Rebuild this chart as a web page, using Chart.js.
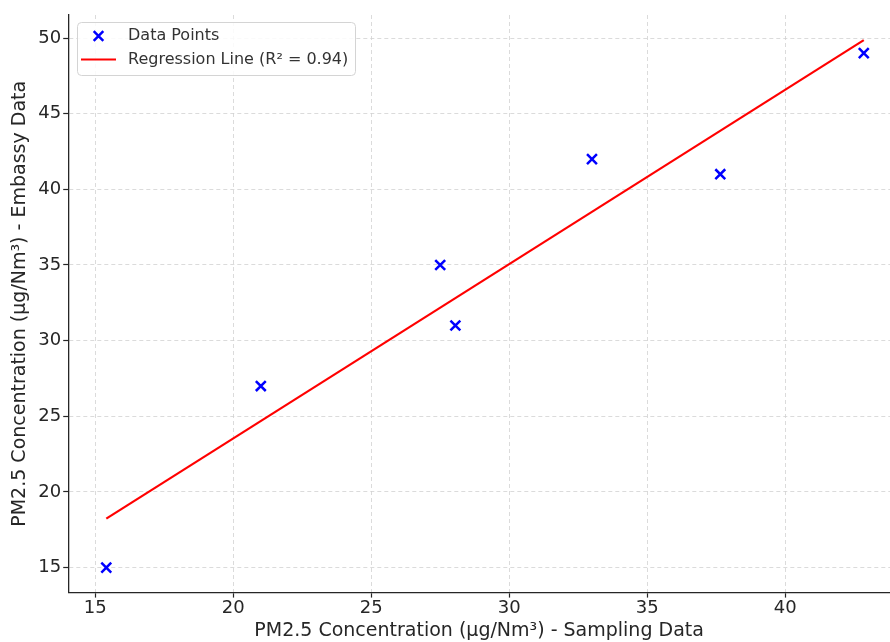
<!DOCTYPE html>
<html><head><meta charset="utf-8">
<script src="https://cdn.jsdelivr.net/npm/chart.js@4"></script>
<style>html,body{margin:0;padding:0;overflow:hidden;background:#fff}</style>
</head><body>
<canvas id="c" width="890" height="642" style="display:block"></canvas>
<script>
const samplingX = [15.4, 21.0, 27.5, 28.05, 33.0, 37.65, 42.85];
const embassyY = [15, 27, 35, 31, 42, 41, 49];
const lineX = [15.4, 42.85];
const lineY = [18.24, 49.86];
const xTicks = [15, 20, 25, 30, 35, 40];
const yTicks = [15, 20, 25, 30, 35, 40, 45, 50];
const seriesLabels = ['Data Points', 'Regression Line (R\u00b2 = 0.94)'];
const xTitle = 'PM2.5 Concentration (\u00b5g/Nm\u00b3) - Sampling Data';
const yTitle = 'PM2.5 Concentration (\u00b5g/Nm\u00b3) - Embassy Data';

const FONT = 'DejaVu Sans';
const TXT = '#262626';

const legendPlugin = {
  id: 'mplLegend',
  afterDraw(chart) {
    const ctx = chart.ctx;
    const x0 = 77, y0 = 22, w = 278, h = 53;
    ctx.save();
    ctx.beginPath();
    if (ctx.roundRect) ctx.roundRect(x0 + 0.5, y0 + 0.5, w, h, 4); else ctx.rect(x0 + 0.5, y0 + 0.5, w, h);
    ctx.fillStyle = 'rgba(255,255,255,0.85)';
    ctx.fill();
    ctx.strokeStyle = '#d4d4d4';
    ctx.lineWidth = 1;
    ctx.stroke();
    const ds0 = chart.data.datasets[0];
    ctx.strokeStyle = ds0.borderColor;
    ctx.lineWidth = 2.5;
    const mx = 98.5, my = 36, r = 4.8;
    ctx.beginPath();
    ctx.moveTo(mx - r, my - r); ctx.lineTo(mx + r, my + r);
    ctx.moveTo(mx + r, my - r); ctx.lineTo(mx - r, my + r);
    ctx.stroke();
    const ds1 = chart.data.datasets[1];
    ctx.strokeStyle = ds1.borderColor;
    ctx.lineWidth = 2;
    ctx.beginPath();
    ctx.moveTo(81, 59.5); ctx.lineTo(116, 59.5);
    ctx.stroke();
    ctx.fillStyle = '#333';
    ctx.font = '16px "' + FONT + '"';
    ctx.textBaseline = 'middle';
    ctx.fillText(ds0.label, 128, 36);
    ctx.fillText(ds1.label, 128, 59.5);
    ctx.restore();
  }
};

new Chart(document.getElementById('c'), {
  type: 'scatter',
  data: {
    datasets: [
      {
        label: seriesLabels[0],
        data: samplingX.map((x, i) => ({ x: x, y: embassyY[i] })),
        pointStyle: 'crossRot',
        pointRadius: 7,
        pointBorderWidth: 2.5,
        borderColor: '#0000ff',
        backgroundColor: '#0000ff',
        order: 1
      },
      {
        label: seriesLabels[1],
        data: lineX.map((x, i) => ({ x: x, y: lineY[i] })),
        showLine: true,
        pointRadius: 0,
        borderColor: '#ff0000',
        borderWidth: 2.2,
        order: 2
      }
    ]
  },
  options: {
    responsive: false,
    animation: false,
    layout: { autoPadding: false, padding: { left: 8.5, right: 0, top: 15, bottom: 0 } },
    plugins: { legend: { display: false }, tooltip: { enabled: false } },
    scales: {
      x: {
        type: 'linear',
        min: 14.02, max: 43.8,
        afterBuildTicks: s => { s.ticks = xTicks.map(v => ({ value: v })); },
        grid: { color: '#d2d2d2', lineWidth: 0.8, tickColor: TXT, tickLength: 5, tickWidth: 1.2, tickBorderDash: [] },
        border: { display: true, color: TXT, width: 1.3, dash: [4, 3] },
        ticks: { color: TXT, font: { family: FONT, size: 18 }, padding: 0, maxRotation: 0 },
        title: { display: true, text: xTitle, color: TXT, font: { family: FONT, size: 19 }, padding: { top: 0, bottom: 0 } }
      },
      y: {
        type: 'linear',
        min: 13.35, max: 51.52,
        afterBuildTicks: s => { s.ticks = yTicks.map(v => ({ value: v })); },
        grid: { color: '#d2d2d2', lineWidth: 0.8, tickColor: TXT, tickLength: 5, tickWidth: 1.2, tickBorderDash: [] },
        border: { display: true, color: TXT, width: 1.3, dash: [4, 3] },
        ticks: { color: TXT, font: { family: FONT, size: 18 }, padding: 2 },
        title: { display: true, text: yTitle, color: TXT, font: { family: FONT, size: 19 }, padding: { top: 0, bottom: 5 } }
      }
    }
  },
  plugins: [legendPlugin]
});
</script>
</body></html>
